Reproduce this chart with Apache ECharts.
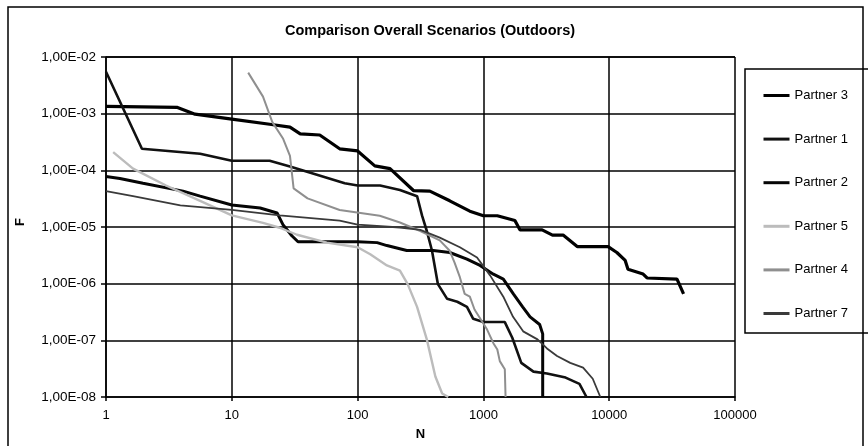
<!DOCTYPE html>
<html>
<head>
<meta charset="utf-8">
<script src="https://cdn.jsdelivr.net/npm/echarts@6/dist/echarts.min.js"></script>
<style>
  html, body { margin: 0; padding: 0; background: #fff; }
  #chart { width: 868px; height: 446px; }
</style>
</head>
<body>
<div id="chart"></div>
<script>
// tick labels
var xTickLabels = ['1', '10', '100', '1000', '10000', '100000']
var yTickLabels = ['1,00E-08', '1,00E-07', '1,00E-06', '1,00E-05', '1,00E-04', '1,00E-03', '1,00E-02']

// series names (legend order)
var partnerNames = ['Partner 3', 'Partner 1', 'Partner 2', 'Partner 5', 'Partner 4', 'Partner 7']

// Partner 3
var p3N = [1, 3.7, 5.1, 10, 20, 29, 35, 50, 72, 100, 137, 181, 278, 375, 540, 780, 1000, 1290, 1780, 1950, 2930, 3540, 4300, 5600, 9800, 11500, 13400, 14100, 18600, 20000, 34600, 39000]
var p3F = [1.35e-3, 1.29e-3, 9.8e-4, 8.0e-4, 6.5e-4, 5.8e-4, 4.4e-4, 4.2e-4, 2.4e-4, 2.2e-4, 1.2e-4, 1.07e-4, 4.4e-5, 4.3e-5, 2.9e-5, 1.9e-5, 1.58e-5, 1.58e-5, 1.3e-5, 8.9e-6, 8.9e-6, 7.2e-6, 7.2e-6, 4.5e-6, 4.5e-6, 3.55e-6, 2.57e-6, 1.8e-6, 1.48e-6, 1.26e-6, 1.2e-6, 6.6e-7]

// Partner 1
var p1N = [1, 1.93, 5.6, 10, 20, 29, 79, 100, 151, 217, 297, 325, 355, 390, 435, 515, 620, 740, 830, 1000, 1480, 1700, 2000, 2500, 3200, 4500, 5800, 6600]
var p1F = [5.5e-3, 2.4e-4, 1.96e-4, 1.48e-4, 1.48e-4, 1.17e-4, 5.9e-5, 5.4e-5, 5.4e-5, 4.5e-5, 3.5e-5, 1.6e-5, 8.5e-6, 3.85e-6, 9.8e-7, 5.4e-7, 4.8e-7, 3.9e-7, 2.4e-7, 2.1e-7, 2.1e-7, 1.1e-7, 4e-8, 2.8e-8, 2.6e-8, 2.2e-8, 1.7e-8, 1e-8]

// Partner 2
var p2N = [1, 1.29, 1.97, 4.1, 5.6, 10, 16.8, 22.9, 25.5, 30, 33.6, 50, 100, 143, 171, 246, 400, 540, 740, 940, 1200, 1440, 1730, 2050, 2350, 2800, 2960, 2960]
var p2F = [7.8e-5, 7.2e-5, 5.9e-5, 4.3e-5, 3.5e-5, 2.45e-5, 2.16e-5, 1.77e-5, 1.1e-5, 7.0e-6, 5.5e-6, 5.5e-6, 5.5e-6, 5.3e-6, 4.7e-6, 3.85e-6, 3.85e-6, 3.55e-6, 2.7e-6, 2.1e-6, 1.47e-6, 1.2e-6, 6.6e-7, 3.9e-7, 2.6e-7, 1.9e-7, 1.3e-7, 1e-8]

// Partner 5
var p5N = [1.14, 1.64, 3.0, 5.6, 10, 17.7, 24, 33, 57, 100, 126, 171, 217, 250, 297, 355, 415, 470, 525]
var p5F = [2.1e-4, 1.07e-4, 5.4e-5, 2.9e-5, 1.6e-5, 1.18e-5, 9.7e-6, 7.3e-6, 5.3e-6, 4.4e-6, 3.3e-6, 2.1e-6, 1.7e-6, 9.8e-7, 3.9e-7, 1.04e-7, 2.3e-8, 1.15e-8, 1e-8]

// Partner 4
var p4N = [13.5, 17.7, 21, 25.6, 29, 31, 40, 72, 150, 217, 315, 450, 540, 590, 650, 710, 780, 850, 1070, 1200, 1290, 1350, 1480, 1500]
var p4F = [5.3e-3, 2.0e-3, 7.1e-4, 3.6e-4, 1.8e-4, 4.8e-5, 3.2e-5, 2.0e-5, 1.58e-5, 1.2e-5, 8.5e-6, 5.8e-6, 3.8e-6, 2.35e-6, 1.3e-6, 6.6e-7, 5.9e-7, 3.5e-7, 1.55e-7, 8.9e-8, 6.9e-8, 4.3e-8, 3.1e-8, 1e-8]

// Partner 7
var p7N = [1, 1.64, 3.9, 10, 24, 72, 100, 217, 315, 450, 650, 890, 1130, 1440, 1720, 2070, 2690, 3200, 3850, 4900, 6200, 7400, 8500]
var p7F = [4.3e-5, 3.5e-5, 2.4e-5, 2.0e-5, 1.6e-5, 1.3e-5, 1.1e-5, 9.8e-6, 8.9e-6, 6.5e-6, 4.4e-6, 2.9e-6, 1.4e-6, 5.9e-7, 2.6e-7, 1.44e-7, 1.04e-7, 7.2e-8, 5.3e-8, 4e-8, 3.3e-8, 2.1e-8, 1e-8]

function zip (xs, ys) {
  return xs.map(function (x, i) { return [x, ys[i]] })
}

function exp10 (v) {
  return Math.round(Math.log(v) / Math.LN10)
}

var seriesData = [zip(p3N, p3F), zip(p1N, p1F), zip(p2N, p2F), zip(p5N, p5F), zip(p4N, p4F), zip(p7N, p7F)]
var seriesStyle = [
  { color: '#000000', width: 3.2 },
  { color: '#111111', width: 2.6 },
  { color: '#050505', width: 3 },
  { color: '#bcbcbc', width: 2.4 },
  { color: '#8f8f8f', width: 2 },
  { color: '#3a3a3a', width: 1.8 }
]

var font = 'Liberation Sans, Arial, sans-serif'
var myChart = echarts.init(document.getElementById('chart'))

myChart.setOption({
  backgroundColor: '#ffffff',
  animation: false,
  title: {
    text: 'Comparison Overall Scenarios (Outdoors)',
    left: 425,
    textAlign: 'center',
    top: 18,
    textStyle: { fontFamily: font, fontSize: 14.5, fontWeight: 'bold', color: '#000' }
  },
  grid: { left: 106, right: 133, top: 57, bottom: 46 },
  legend: {
    orient: 'vertical',
    left: 762,
    top: 89,
    itemWidth: 26,
    itemHeight: 16,
    itemGap: 30.6,
    padding: 0,
    data: partnerNames,
    itemStyle: { opacity: 0 },
    lineStyle: { width: 3 },
    textStyle: { fontFamily: font, fontSize: 13, color: '#000' }
  },
  xAxis: {
    type: 'log',
    logBase: 10,
    min: 1,
    max: 100000,
    name: 'N',
    nameLocation: 'middle',
    nameGap: 31,
    nameTextStyle: { fontFamily: font, fontSize: 13, fontWeight: 'bold', color: '#000' },
    axisLine: { lineStyle: { color: '#000', width: 1.5 } },
    axisTick: { show: true, length: 4, lineStyle: { color: '#000', width: 1.5 } },
    splitLine: { show: true, lineStyle: { color: '#000', width: 1.5 } },
    minorTick: { show: false },
    axisLabel: {
      margin: 12,
      fontFamily: font,
      fontSize: 13,
      color: '#000',
      formatter: function (v) { return xTickLabels[exp10(v)] }
    }
  },
  yAxis: {
    type: 'log',
    logBase: 10,
    min: 1e-8,
    max: 1e-2,
    axisLine: { show: true, lineStyle: { color: '#000', width: 1.5 } },
    axisTick: { show: true, length: 5, lineStyle: { color: '#000', width: 1.5 } },
    splitLine: { show: true, lineStyle: { color: '#000', width: 1.5 } },
    axisLabel: {
      margin: 10,
      fontFamily: font,
      fontSize: 13.5,
      color: '#000',
      formatter: function (v) { return yTickLabels[exp10(v) + 8] }
    }
  },
  graphic: [
    {
      type: 'rect',
      shape: { x: 8, y: 7, width: 855, height: 460 },
      style: { fill: 'none', stroke: '#000', lineWidth: 1.5 },
      silent: true
    },
    {
      type: 'rect',
      shape: { x: 745, y: 69, width: 140, height: 264 },
      style: { fill: 'none', stroke: '#000', lineWidth: 1.5 },
      silent: true
    },
    {
      type: 'text',
      x: 20,
      y: 222,
      rotation: Math.PI / 2,
      style: {
        text: 'F',
        fontFamily: font,
        fontSize: 13,
        fontWeight: 'bold',
        fill: '#000',
        align: 'center',
        verticalAlign: 'middle'
      },
      silent: true
    }
  ],
  series: partnerNames.map(function (name, i) {
    return {
      name: name,
      type: 'line',
      data: seriesData[i],
      symbol: 'none',
      lineStyle: { color: seriesStyle[i].color, width: seriesStyle[i].width },
      itemStyle: { color: seriesStyle[i].color }
    }
  })
})
</script>
</body>
</html>
